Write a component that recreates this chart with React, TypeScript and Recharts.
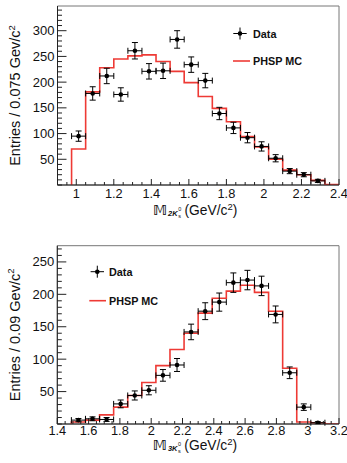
import { ComposedChart, Line, Scatter, ErrorBar, XAxis, YAxis, ReferenceArea } from "recharts";

// M(2K_S^0): bins of 0.075 GeV/c^2 starting at 0.975
const lowEdge2K = 0.975;
const binWidth2K = 0.075;
const mc2K = [70, 181, 228, 245, 251, 253, 240, 221, 199, 172, 149, 123, 94, 74, 50, 29, 20, 9, 1];
const data2K = [95, 178, 212, 176, 261, 221, 222, 283, 234, 203, 139, 111, 92, 75, 52, 27, 20, 8];
const err2K = [10, 13, 15, 13, 16, 15, 15, 17, 15, 14, 12, 11, 10, 9, 7, 5, 4, 3];
const xTicks2K = [1, 1.2, 1.4, 1.6, 1.8, 2, 2.2, 2.4];
const yTicks2K = [50, 100, 150, 200, 250, 300];

// M(3K_S^0): bins of 0.09 GeV/c^2 starting at 1.49
const lowEdge3K = 1.49;
const binWidth3K = 0.09;
const mc3K = [3, 6, 14, 26, 44, 64, 90, 115, 140, 171, 194, 205, 214, 203, 174, 86, 3, 2, 0];
const data3K = [6, 8, 7, 31, 44, 52, 75, 91, 142, 174, 188, 218, 222, 213, 169, 79, 26, 2];
const err3K = [2.5, 3, 3, 6, 7, 7, 9, 10, 12, 13, 14, 15, 15, 15, 13, 9, 5, 1.5];
const xTicks3K = [1.4, 1.6, 1.8, 2, 2.2, 2.4, 2.6, 2.8, 3, 3.2];
const yTicks3K = [50, 100, 150, 200, 250];

const FONT = "'Liberation Sans', Arial, Helvetica, sans-serif";
const RED = "#ee3a35";

// histogram outline: rise from zero at the first edge, then one step per bin
const stepPoints = (lo: number, w: number, vals: number[]) => [
  { x: lo, y: 0 },
  ...vals.map((v, i) => ({ x: lo + i * w, y: v })),
  { x: lo + vals.length * w, y: vals[vals.length - 1] },
];

const dataPoints = (lo: number, w: number, vals: number[], errs: number[]) =>
  vals.map((v, i) => ({ x: lo + (i + 0.5) * w, y: v, ex: w / 2, ey: errs[i] }));

// majors plus evenly spaced minor ticks between them
const withMinor = (lo: number, hi: number, step: number) => {
  const out: number[] = [];
  const n = Math.round((hi - lo) / step);
  for (let k = 0; k <= n; k++) out.push(+(lo + k * step).toFixed(4));
  return out;
};

const isMajor = (v: number, majors: number[]) => majors.some((m) => Math.abs(m - v) < 1e-6);

const XTick = (majors: number[], labelDy: number) => (props: any) => {
  const { x, y, payload } = props;
  const major = isMajor(payload.value, majors);
  return (
    <g>
      <line x1={x} x2={x} y1={y} y2={y - (major ? 6 : 3)} stroke="#222" strokeWidth={1} />
      {major && (
        <text x={x} y={y + labelDy} textAnchor="middle" fontSize={12.8} fontFamily={FONT} fill="#111">
          {payload.value}
        </text>
      )}
    </g>
  );
};

const YTick = (majors: number[]) => (props: any) => {
  const { x, y, payload } = props;
  const major = isMajor(payload.value, majors);
  return (
    <g>
      <line x1={x} x2={x + (major ? 9 : 4.5)} y1={y} y2={y} stroke="#222" strokeWidth={1} />
      {major && (
        <text x={x - 3} y={y + 4.5} textAnchor="end" fontSize={13} fontFamily={FONT} fill="#111">
          {payload.value}
        </text>
      )}
    </g>
  );
};

const YTitle = (binLabel: string) => (props: any) => {
  const { x, y, height } = props.viewBox;
  const cx = x + 12.5;
  const cy = y + height / 2;
  return (
    <text
      x={cx}
      y={cy}
      transform={`rotate(-90 ${cx} ${cy})`}
      textAnchor="middle"
      fontSize={14.5}
      fontFamily={FONT}
      fill="#111"
    >
      {`Entries / ${binLabel} Gev/c`}
      <tspan dy={-5.5} fontSize={9.5}>2</tspan>
    </text>
  );
};

// invariant-mass title: M with subscript nK and a stacked 0 / s
const MassTitle = (sub: string, dy: number) => (props: any) => {
  const { x, y } = props.viewBox;
  const x0 = x + 95.5;
  const base = y + dy;
  return (
    <text x={x0} y={base} fill="#111" fontFamily={FONT} fontSize={13.8}>
      <tspan fontFamily="'DejaVu Sans', sans-serif" fontWeight="bold" fontSize={13.5}>
        𝕄
      </tspan>
      <tspan dx={1} dy={1} fontSize={7.5} fontWeight="bold" fontStyle="italic">
        {sub}
      </tspan>
      <tspan dx={0.6} dy={-5.5} fontSize={5.5}>0</tspan>
      <tspan dx={-3.06} dy={7} fontSize={5.5}>s</tspan>
      <tspan dx={3.5} dy={-2.5}>(GeV/c</tspan>
      <tspan dy={-5.5} fontSize={9.5}>2</tspan>
      <tspan dy={5.5}>)</tspan>
    </text>
  );
};

const Dot = (props: any) => <circle cx={props.cx} cy={props.cy} r={2.3} fill="#000" />;

type LegendPos = { cx: number; cy: number; tx: number; lineY: number; line0: number; line1: number };

function HistLegend({ cx, cy, tx, lineY, line0, line1 }: LegendPos) {
  return (
    <svg
      width={347}
      height={233}
      style={{ position: "absolute", left: 0, top: 0, pointerEvents: "none" }}
    >
      <g fontFamily={FONT} fontWeight="bold" fontSize={10.8} fill="#111">
        <line x1={cx - 6.7} x2={cx + 6.7} y1={cy} y2={cy} stroke="#000" />
        <line x1={cx} x2={cx} y1={cy - 6} y2={cy + 6} stroke="#000" />
        <circle cx={cx} cy={cy} r={2.3} fill="#000" />
        <text x={tx} y={cy + 4}>Data</text>
        <line x1={line0} x2={line1} y1={lineY} y2={lineY} stroke={RED} strokeWidth={1.6} />
        <text x={tx} y={lineY + 4}>PHSP MC</text>
      </g>
    </svg>
  );
}

type PanelProps = {
  height: number;
  margin: { top: number; right: number; bottom: number; left: number };
  xAxisHeight: number;
  xDomain: [number, number];
  yDomain: [number, number];
  xTicks: number[];
  yTicks: number[];
  xMinor: number;
  lowEdge: number;
  binWidth: number;
  mc: number[];
  data: number[];
  errs: number[];
  binLabel: string;
  sub: string;
  tickDy: number;
  titleDy: number;
  legend: LegendPos;
};

function Panel(p: PanelProps) {
  const xAll = withMinor(p.xDomain[0], p.xDomain[1], p.xMinor);
  const yAll = withMinor(0, Math.floor(p.yDomain[1] / 10) * 10, 10);
  return (
    <div style={{ position: "relative", width: 347, height: p.height }}>
      <ComposedChart width={347} height={p.height} margin={p.margin}>
        <XAxis
          dataKey="x"
          type="number"
          domain={p.xDomain}
          allowDataOverflow
          ticks={xAll}
          interval={0}
          tickSize={0}
          tickMargin={0}
          tick={XTick(p.xTicks, p.tickDy)}
          height={p.xAxisHeight}
          axisLine={{ stroke: "#222" }}
          label={{ content: MassTitle(p.sub, p.titleDy) }}
        />
        <YAxis
          dataKey="y"
          type="number"
          domain={p.yDomain}
          allowDataOverflow
          ticks={yAll}
          interval={0}
          tickSize={0}
          tickMargin={0}
          tick={YTick(p.yTicks)}
          width={50}
          axisLine={{ stroke: "#222" }}
          label={{ content: YTitle(p.binLabel) }}
        />
        <ReferenceArea
          x1={p.xDomain[0]}
          x2={p.xDomain[1]}
          y1={p.yDomain[0]}
          y2={p.yDomain[1]}
          fill="none"
          stroke="#777"
          strokeWidth={1}
          ifOverflow="visible"
        />
        <Line
          data={stepPoints(p.lowEdge, p.binWidth, p.mc)}
          dataKey="y"
          type="stepAfter"
          stroke={RED}
          strokeWidth={1.6}
          dot={false}
          isAnimationActive={false}
        />
        <Scatter
          data={dataPoints(p.lowEdge, p.binWidth, p.data, p.errs)}
          dataKey="y"
          fill="#000"
          shape={Dot}
          isAnimationActive={false}
        >
          <ErrorBar dataKey="ex" direction="x" width={3} stroke="#000" strokeWidth={1} isAnimationActive={false} />
          <ErrorBar dataKey="ey" direction="y" width={3} stroke="#000" strokeWidth={1} isAnimationActive={false} />
        </Scatter>
      </ComposedChart>
      <HistLegend {...p.legend} />
    </div>
  );
}

export default function App() {
  return (
    <div style={{ position: "absolute", left: 0, top: 0, width: 347, height: 463, background: "#fff" }}>
      <Panel
        height={230}
        margin={{ top: 6, right: 8, bottom: 0, left: 7.5 }}
        xAxisHeight={45}
        xDomain={[0.9, 2.4]}
        yDomain={[0, 348]}
        xTicks={xTicks2K}
        yTicks={yTicks2K}
        xMinor={0.05}
        lowEdge={lowEdge2K}
        binWidth={binWidth2K}
        mc={mc2K}
        data={data2K}
        errs={err2K}
        binLabel="0.075"
        sub="2K"
        tickDy={12.5}
        titleDy={30}
        legend={{ cx: 240, cy: 33.5, tx: 253, lineY: 61, line0: 233, line1: 250 }}
      />
      <Panel
        height={233}
        margin={{ top: 15.7, right: 8, bottom: 0, left: 7.3 }}
        xAxisHeight={39}
        xDomain={[1.4, 3.2]}
        yDomain={[0, 275]}
        xTicks={xTicks3K}
        yTicks={yTicks3K}
        xMinor={0.05}
        lowEdge={lowEdge3K}
        binWidth={binWidth3K}
        mc={mc3K}
        data={data3K}
        errs={err3K}
        binLabel="0.09"
        sub="3K"
        tickDy={11.2}
        titleDy={26}
        legend={{ cx: 97.3, cy: 41.7, tx: 109, lineY: 70.7, line0: 89.3, line1: 106 }}
      />
    </div>
  );
}
